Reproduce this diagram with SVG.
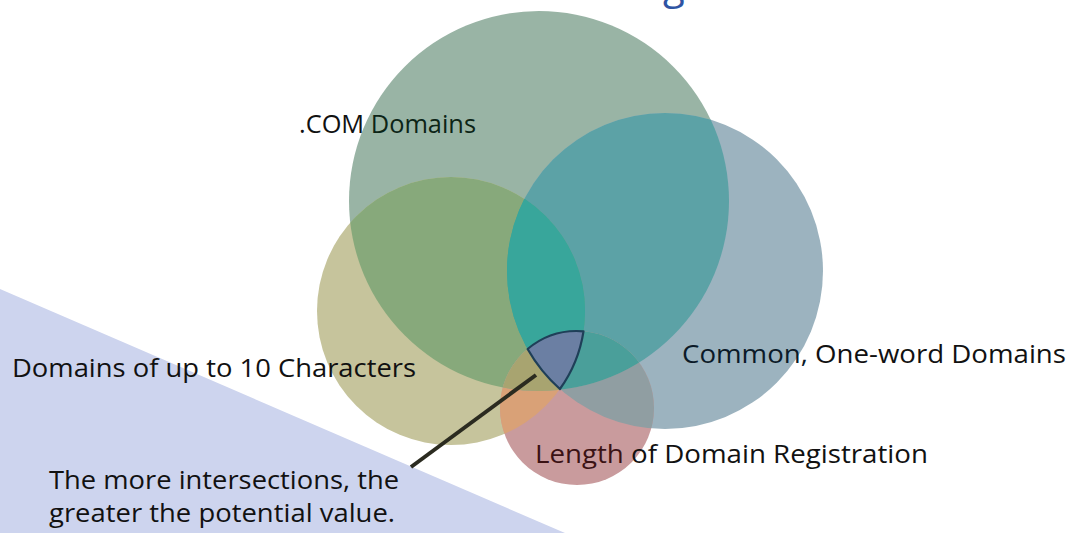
<svg xmlns="http://www.w3.org/2000/svg" width="1077" height="533" viewBox="0 0 1077 533">
  <style>
    .lbl { font-family: "Open Sans", "Liberation Sans", sans-serif; font-size: 26px; fill: #111111; }
    .title { font-family: "Open Sans", "Liberation Sans", sans-serif; font-size: 40px; fill: #2e54a3; }
  </style>
  <defs>
    <clipPath id="cG"><circle cx="539" cy="201" r="190"/></clipPath>
    <clipPath id="cB"><circle cx="665" cy="271" r="158"/></clipPath>
    <clipPath id="cO"><circle cx="451" cy="311" r="134"/></clipPath>
    <clipPath id="cP"><circle cx="577" cy="408" r="77"/></clipPath>
  </defs>

  <rect width="1077" height="533" fill="#ffffff"/>
  <polygon id="background-band" points="0,289 565,533 0,533" fill="#cdd4ee"/>
  <text class="title" x="663" y="-1">g</text>

  <g id="set-com">
    <circle cx="539" cy="201" r="190" fill="#99b4a5"/>
  </g>
  <g id="set-short">
    <circle cx="451" cy="311" r="134" fill="#c6c49c"/>
  </g>
  <g id="set-oneword">
    <circle cx="665" cy="271" r="158" fill="#9cb3bf"/>
  </g>
  <g id="set-length">
    <circle cx="577" cy="408" r="77" fill="#c99b9d"/>
  </g>

  <g id="overlaps">
    <circle cx="665" cy="271" r="158" fill="#5ca2a6" clip-path="url(#cG)"/>
    <circle cx="451" cy="311" r="134" fill="#87a97b" clip-path="url(#cG)"/>
    <circle cx="451" cy="311" r="134" fill="#38a69b" clip-path="url(#cB)"/>
    <circle cx="577" cy="408" r="77" fill="#d9a177" clip-path="url(#cO)"/>
    <circle cx="577" cy="408" r="77" fill="#909ea2" clip-path="url(#cB)"/>
    <circle cx="577" cy="408" r="77" fill="#a0a4a0" clip-path="url(#cG)"/>
    <g clip-path="url(#cG)"><circle cx="665" cy="271" r="158" fill="#38a69b" clip-path="url(#cO)"/></g>
    <g clip-path="url(#cG)"><circle cx="577" cy="408" r="77" fill="#a8a470" clip-path="url(#cO)"/></g>
    <g clip-path="url(#cG)"><circle cx="577" cy="408" r="77" fill="#4a9f9a" clip-path="url(#cB)"/></g>
    <g clip-path="url(#cO)"><circle cx="577" cy="408" r="77" fill="#6b7fa3" clip-path="url(#cB)"/></g>
  </g>

  <g id="core">
    <path d="M527.6,349 A77,77 0 0 1 583.5,331.3 A134,134 0 0 1 559.9,389 A158,158 0 0 1 527.6,349 Z" fill="#6b7fa3" stroke="#1f3f58" stroke-width="2.2" stroke-linejoin="round"/>
  </g>

  <g id="connectors">
    <line x1="411" y1="467" x2="536" y2="375" stroke="#2b2b20" stroke-width="4"/>
  </g>

  <g id="labels">
    <text class="lbl" x="299" y="133" textLength="177" lengthAdjust="spacingAndGlyphs">.COM <tspan fill="#0c2416">Domains</tspan></text>
    <text class="lbl" x="682" y="363" textLength="384" lengthAdjust="spacingAndGlyphs"><tspan fill="#0b1a28">Common,</tspan> One-word Domains</text>
    <text class="lbl" x="12" y="377" textLength="404" lengthAdjust="spacingAndGlyphs">Domains of up to 10 Characters</text>
    <text class="lbl" x="535" y="463" textLength="393" lengthAdjust="spacingAndGlyphs"><tspan fill="#3b1214">Length</tspan> of Domain Registration</text>
    <text class="lbl" x="49" y="489" textLength="350" lengthAdjust="spacingAndGlyphs">The more intersections, the</text>
    <text class="lbl" x="49" y="522" textLength="346" lengthAdjust="spacingAndGlyphs">greater the potential value.</text>
  </g>
</svg>
